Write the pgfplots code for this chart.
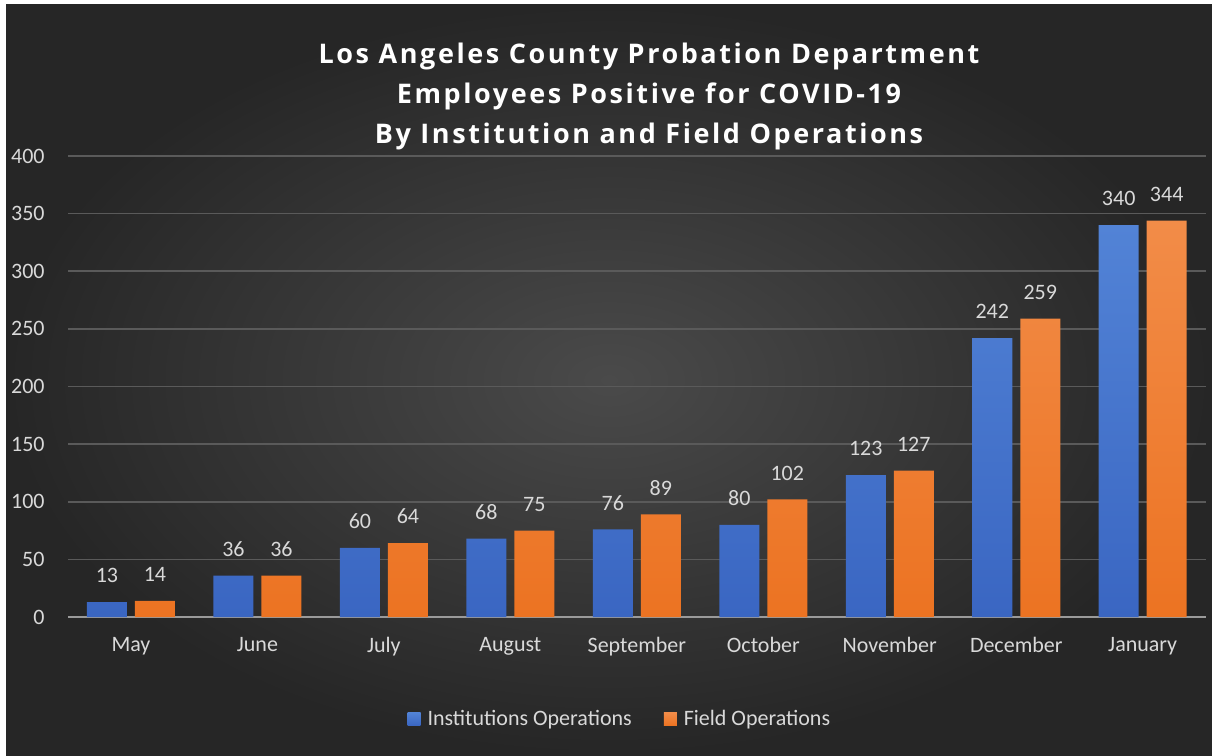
\documentclass[border=0pt]{standalone}
\usepackage{pgfplots}
\pgfplotsset{compat=1.18}
\usepackage{fontspec}
\setmainfont{Carlito}
\newfontfamily\titlefont[LetterSpace=9.5]{Open Sans}
\definecolor{bgin}{HTML}{4A4A4A}
\definecolor{bgout}{HTML}{262626}
\definecolor{bluetop}{HTML}{5283D6}
\definecolor{bluebot}{HTML}{3A66C2}
\definecolor{orgtop}{HTML}{F28C48}
\definecolor{orgbot}{HTML}{EC7322}
\definecolor{lbl}{HTML}{D9D9D9}
\definecolor{gridc}{HTML}{5A5A5A}
\definecolor{axc}{HTML}{9A9A9A}
\begin{document}
\begin{tikzpicture}[x=1pt,y=1pt]
\fill[white] (0,0) rectangle (1212,755);
\shade[inner color=bgin, outer color=bgout] (6,0) rectangle (1212,750);
\node[font=\titlefont\bfseries\fontsize{27}{40}\selectfont, text=white, align=center, anchor=north] at (649,716) {Los Angeles County Probation Department\\Employees Positive for COVID-19\\By Institution and Field Operations};
\begin{axis}[
  at={(67.75pt,138pt)}, anchor=south west,
  scale only axis, width=1138.25pt, height=461pt,
  ymin=0, ymax=400, ytick={0,50,...,400},
  xmin=-0.5, xmax=8.5,
  xtick=data,
  xticklabels={May,June,July,August,September,October,November,December,January},
  ybar=8pt, bar width=40pt,
  axis line style={draw=none},
  major tick length=0pt,
  ymajorgrids, grid style={draw=gridc, line width=1.5pt},
  tick label style={font=\fontsize{22}{26}\selectfont, text=lbl, inner sep=0pt},
  yticklabel style={anchor=east, xshift=-23pt},
  xticklabel style={anchor=north, yshift=-20pt},
  /pgf/number format/assume math mode=true,
  nodes near coords,
  every node near coord/.append style={font=\fontsize{22}{26}\selectfont, text=lbl, inner sep=0pt, yshift=19pt},
  legend style={at={(0.5,0)}, anchor=center, xshift=-18pt, yshift=-102pt, draw=none, fill=none,
    font=\fontsize{22}{26}\selectfont, text=lbl, legend columns=2,
    nodes={inner sep=0pt},
    /tikz/every even column/.append style={column sep=32pt}},
  legend image code/.code={\fill (0pt,-6.5pt) rectangle (13pt,6.5pt); \path (20pt,0pt);},
]
\draw[axc, line width=2pt] (axis cs:-0.5,0) -- (axis cs:8.5,0);
\addplot[draw=none, top color=bluetop, bottom color=bluebot] coordinates {(0,13) (1,36) (2,60) (3,68) (4,76) (5,80) (6,123) (7,242) (8,340)};
\addplot[draw=none, top color=orgtop, bottom color=orgbot] coordinates {(0,14) (1,36) (2,64) (3,75) (4,89) (5,102) (6,127) (7,259) (8,344)};
\legend{Institutions Operations, Field Operations}
\end{axis}
\end{tikzpicture}
\end{document}
